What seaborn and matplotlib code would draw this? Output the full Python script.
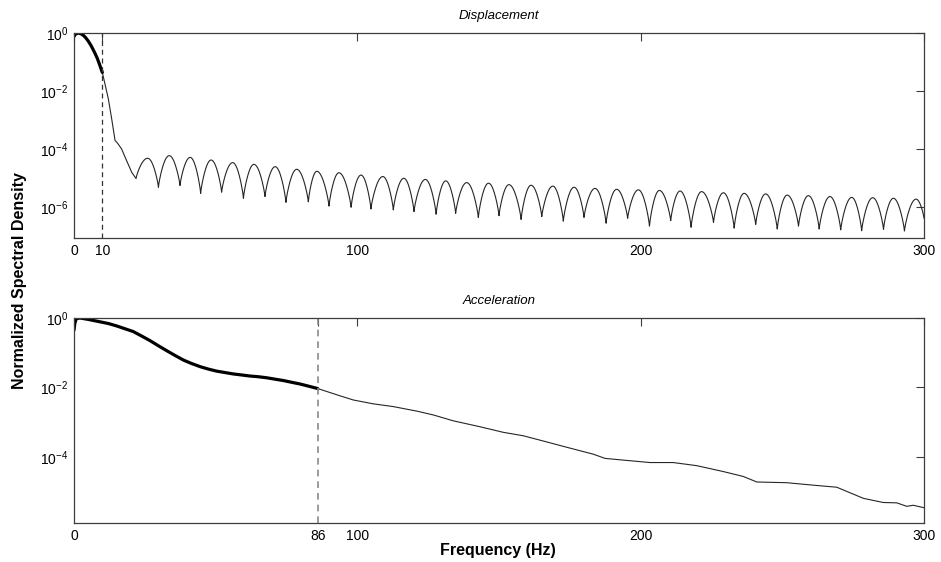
import numpy as np
import pandas as pd
import matplotlib
matplotlib.use("Agg")
import matplotlib.pyplot as plt
import seaborn as sns
from matplotlib.ticker import FixedLocator, FuncFormatter, NullLocator

# ---------------- data (log10 of normalized spectral density) ----------------
# Displacement: low-frequency roll-off
disp_f = [0.0, 0.5, 1.5, 2.5, 3.3, 4.2, 5.1, 6.0, 6.8, 7.5, 8.2, 9.0, 9.6, 10.0,
          10.9, 12.1, 13.3, 14.5, 15.3, 16.8, 18.6, 20.4]
disp_lg = [-0.12, -0.04, 0.0, -0.03, -0.08, -0.17, -0.29, -0.43, -0.58, -0.72,
           -0.87, -1.08, -1.25, -1.36, -1.74, -2.26, -2.96, -3.71, -3.79, -4.00,
           -4.41, -4.81]

# Displacement: side-lobe troughs (last entry is the right edge)
trough_f = [21.9, 29.8, 37.4, 44.7, 52.1, 59.8, 67.4, 74.8, 82.7, 90.0, 97.8,
            104.8, 112.7, 120.0, 127.8, 134.7, 142.7, 150.0, 157.8, 165.1, 172.7,
            180.0, 187.8, 195.4, 203.1, 210.6, 217.8, 225.7, 233.0, 240.6, 248.2,
            255.7, 263.0, 270.6, 278.0, 285.7, 293.1, 300.0]
trough_lg = [-5.02, -5.32, -5.26, -5.53, -5.49, -5.70, -5.64, -5.84, -5.82, -5.97,
             -6.01, -6.07, -6.10, -6.16, -6.25, -6.22, -6.36, -6.30, -6.43, -6.33,
             -6.49, -6.36, -6.56, -6.39, -6.66, -6.47, -6.70, -6.53, -6.73, -6.60,
             -6.76, -6.66, -6.76, -6.79, -6.82, -6.77, -6.83, -6.39]

# Displacement: side-lobe peaks
peak_f = [26.0, 33.6, 41.0, 48.4, 56.0, 63.5, 71.0, 78.6, 85.7, 93.5, 101.3,
          109.0, 116.4, 124.0, 131.2, 138.6, 146.3, 153.5, 161.3, 169.0, 176.5,
          183.9, 191.5, 199.2, 206.6, 213.9, 221.5, 229.2, 236.5, 244.1, 251.7,
          259.2, 266.8, 274.5, 281.9, 289.2, 297.2]
peak_lg = [-4.32, -4.23, -4.29, -4.38, -4.47, -4.53, -4.61, -4.70, -4.77, -4.82,
           -4.90, -4.95, -5.01, -5.05, -5.10, -5.16, -5.18, -5.23, -5.25, -5.28,
           -5.32, -5.36, -5.39, -5.41, -5.43, -5.45, -5.47, -5.51, -5.53, -5.55,
           -5.59, -5.61, -5.64, -5.67, -5.68, -5.70, -5.73]

# Acceleration
acc_f = [0.0, 0.3, 0.8, 2.1, 5.0, 6.2, 9.2, 12.2, 15.1, 18.0, 20.9, 23.9, 26.8,
         29.8, 32.7, 35.7, 38.6, 41.5, 44.5, 47.4, 50.4, 53.3, 56.2, 59.2, 62.1,
         65.0, 68.0, 70.9, 73.9, 76.8, 79.8, 82.7, 86.0, 93.9, 98.6, 105.6,
         112.7, 121.0, 126.8, 133.9, 143.3, 151.5, 158.6, 165.6, 173.9, 183.3,
         187.4, 193.9, 203.3, 211.5, 219.8, 229.2, 236.2, 241.0, 251.5, 262.1,
         269.2, 278.6, 285.6, 290.4, 293.9, 296.2, 300.0]
acc_lg = [-0.35, -0.15, -0.02, 0.0, -0.04, -0.06, -0.11, -0.16, -0.23, -0.31,
          -0.39, -0.52, -0.65, -0.80, -0.94, -1.08, -1.21, -1.31, -1.40, -1.47,
          -1.53, -1.57, -1.61, -1.64, -1.67, -1.69, -1.72, -1.76, -1.80, -1.85,
          -1.90, -1.96, -2.03, -2.24, -2.36, -2.47, -2.55, -2.68, -2.79, -2.96,
          -3.13, -3.29, -3.39, -3.54, -3.72, -3.92, -4.04, -4.09, -4.16, -4.16,
          -4.25, -4.42, -4.56, -4.72, -4.74, -4.82, -4.87, -5.19, -5.31, -5.32,
          -5.42, -5.39, -5.46]

disp_cut = 10
acc_cut = 86
xticks_top = [0, 10, 100, 200, 300]
xticks_bot = [0, 86, 100, 200, 300]
yticks_top = [0, -2, -4, -6]
yticks_bot = [0, -2, -4]


# ---------------- build the displacement side-lobe trace ----------------
def lobe_trace(tf, tl, pf, pl, n=24):
    fs, ls = [], []
    for i in range(len(pf)):
        a, b, p = tf[i], tf[i + 1], pf[i]
        s = np.linspace(0, 1, n, endpoint=False)
        # rising flank: sharp trough, rounded crest
        fs.extend(a + (p - a) * s)
        ls.extend(tl[i] + (pl[i] - tl[i]) * np.sin(np.pi / 2 * s) ** 0.8)
        # falling flank
        fs.extend(p + (b - p) * s)
        ls.extend(tl[i + 1] + (pl[i] - tl[i + 1]) * np.cos(np.pi / 2 * s) ** 0.8)
    fs.append(tf[-1])
    ls.append(tl[-1])
    return np.array(fs), np.array(ls)


lf, ll = lobe_trace(trough_f, trough_lg, peak_f, peak_lg)
disp = pd.DataFrame({
    "f": np.concatenate([disp_f, lf]),
    "psd": 10.0 ** np.concatenate([disp_lg, ll]),
})
acc = pd.DataFrame({"f": acc_f, "psd": 10.0 ** np.array(acc_lg)})

# ---------------- style ----------------
sns.set_style("white")
plt.rcParams["font.family"] = ["Liberation Sans", "DejaVu Sans"]
plt.rcParams["text.color"] = "black"
plt.rcParams["mathtext.fontset"] = "custom"
plt.rcParams["mathtext.rm"] = "Liberation Sans"
plt.rcParams["mathtext.it"] = "Liberation Sans:italic"
plt.rcParams["mathtext.bf"] = "Liberation Sans:bold"

fig = plt.figure(figsize=(9.41, 5.62), dpi=100)
W, H = 941, 562
ax1 = fig.add_axes([74 / W, 1 - 238 / H, 850 / W, 205 / H])
ax2 = fig.add_axes([74 / W, 1 - 523 / H, 850 / W, 205 / H])

spine_col = "#3c3c3c"
line_col = "#262626"


def sci(v, _pos):
    return r"$\mathregular{10^{%d}}$" % int(round(np.log10(v)))


def style_axes(ax, xt, yt, ylow):
    ax.set_yscale("log")
    ax.set_xlim(0, 300)
    ax.set_ylim(10.0 ** ylow, 1.0)
    ax.xaxis.set_major_locator(FixedLocator(xt))
    ax.yaxis.set_major_locator(FixedLocator([10.0 ** e for e in yt]))
    ax.yaxis.set_minor_locator(NullLocator())
    ax.xaxis.set_minor_locator(NullLocator())
    ax.yaxis.set_major_formatter(FuncFormatter(sci))
    ax.tick_params(direction="in", top=True, right=True, length=6, width=0.8,
                   color=spine_col, labelsize=10, pad=4, labelcolor="black")
    for sp in ax.spines.values():
        sp.set_color(spine_col)
        sp.set_linewidth(0.9)
        sp.set_visible(True)
    ax.set_xlabel("")
    ax.set_ylabel("")


# Displacement panel
thick = disp[disp["f"] <= disp_cut]
thin = disp[disp["f"] >= disp_cut]
sns.lineplot(data=thin, x="f", y="psd", ax=ax1, color=line_col, lw=0.8,
             sort=False, estimator=None)
sns.lineplot(data=thick, x="f", y="psd", ax=ax1, color="black", lw=2.3,
             sort=False, estimator=None)
ax1.axvline(disp_cut, color="#333333", lw=0.9, dashes=(4, 3))
style_axes(ax1, xticks_top, yticks_top, -7.07)
ax1.set_title("Displacement", fontsize=9.5, style="italic", pad=10, color="black")

# Acceleration panel
thick = acc[acc["f"] <= acc_cut]
thin = acc[acc["f"] >= acc_cut]
sns.lineplot(data=thin, x="f", y="psd", ax=ax2, color=line_col, lw=0.8,
             sort=False, estimator=None)
sns.lineplot(data=thick, x="f", y="psd", ax=ax2, color="black", lw=2.3,
             sort=False, estimator=None)
ax2.axvline(acc_cut, color="#8a8a8a", lw=1.2, dashes=(4, 3))
style_axes(ax2, xticks_bot, yticks_bot, -5.9)
ax2.set_title("Acceleration", fontsize=9.5, style="italic", pad=10, color="black")

fig.text(20 / W, 1 - 281 / H, "Normalized Spectral Density", rotation=90,
         ha="center", va="center", fontsize=11.5, fontweight="bold", color="black")
fig.text(498 / W, 1 - 551 / H, "Frequency (Hz)", ha="center", va="center",
         fontsize=11.5, fontweight="bold", color="black")

fig.savefig("out.png", dpi=100, facecolor="white")
